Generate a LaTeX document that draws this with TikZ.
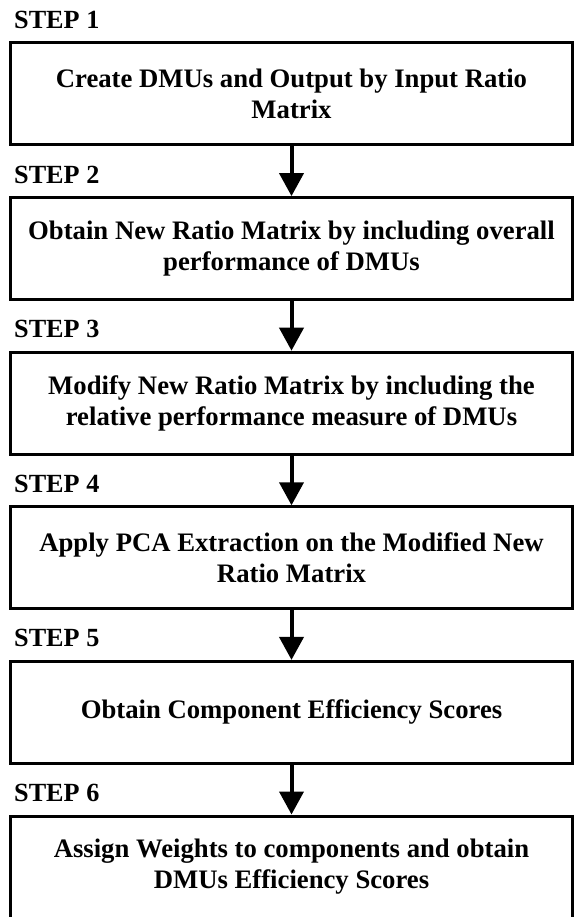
\documentclass[tikz,border=0pt]{standalone}
\usepackage{fontspec}
\setmainfont{Liberation Serif}
\usetikzlibrary{arrows.meta}
\begin{document}
\begin{tikzpicture}[x=1pt,y=-1pt,
  stepbox/.style={draw=black,line width=3pt,minimum width=562pt,minimum height=102pt,
    inner sep=0pt,align=center,font=\bfseries\fontsize{26.7}{31}\selectfont},
  steplabel/.style={anchor=west,inner sep=0pt,font=\bfseries\fontsize{26.2}{31}\selectfont},
  flow/.style={line width=4pt,-{Triangle[width=24pt,length=23pt]}}]
\useasboundingbox (0,0) rectangle (578,917);
\clip (0,0) rectangle (578,917);
\node[stepbox] (b1) at (291.5,94) {Create DMUs and Output by Input Ratio\\Matrix};
\node[stepbox] (b2) at (291.5,248.6) {Obtain New Ratio Matrix by including overall\\performance of DMUs};
\node[stepbox] (b3) at (291.5,403.2) {Modify New Ratio Matrix by including the\\relative performance measure of DMUs};
\node[stepbox] (b4) at (291.5,557.8) {Apply PCA Extraction on the Modified New\\Ratio Matrix};
\node[stepbox] (b5) at (291.5,712.4) {Obtain Component Efficiency Scores};
\node[stepbox] (b6) at (291.5,867) {Assign Weights to components and obtain\\DMUs Efficiency Scores};
\node[steplabel] (s1) at (14,20) {STEP 1};
\node[steplabel] (s2) at (14,174.6) {STEP 2};
\node[steplabel] (s3) at (14,329.2) {STEP 3};
\node[steplabel] (s4) at (14,483.8) {STEP 4};
\node[steplabel] (s5) at (14,638.4) {STEP 5};
\node[steplabel] (s6) at (14,793) {STEP 6};
\draw[flow] (b1.south) -- (b2.north);
\draw[flow] (b2.south) -- (b3.north);
\draw[flow] (b3.south) -- (b4.north);
\draw[flow] (b4.south) -- (b5.north);
\draw[flow] (b5.south) -- (b6.north);
\end{tikzpicture}
\end{document}
